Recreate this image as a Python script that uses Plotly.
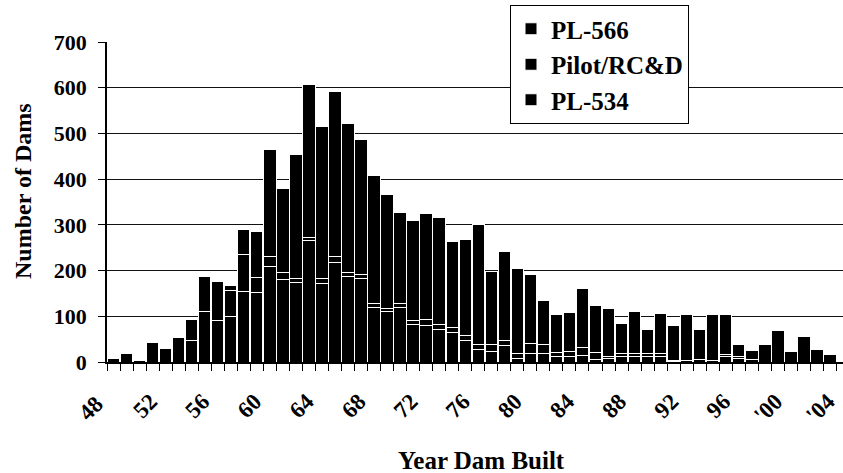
import plotly.graph_objects as go

# Years (two-digit, 105 = 2005)
years = list(range(49, 106))

# PL-534 (bottom segment)
pl534 = [7, 18, 4, 43, 30, 53, 47, 110, 90, 100,
         155, 151, 208, 181, 174, 265, 172, 218, 186, 183,
         119, 110, 119, 83, 80, 71, 64, 47, 28, 23,
         36, 7, 18, 18, 11, 12, 15, 5, 7, 13,
         12, 12, 12, 2, 3, 5, 3, 12, 7, 5,
         0, 0, 0, 0, 0, 0, 0]
# Pilot/RC&D (middle segment)
pilot = [0, 0, 0, 0, 0, 0, 0, 0, 0, 56,
         81, 33, 22, 14, 9, 7, 11, 12, 9, 8,
         10, 8, 10, 7, 14, 12, 11, 11, 10, 15,
         11, 11, 22, 20, 10, 12, 16, 16, 5, 5,
         6, 6, 6, 1, 0, 0, 0, 5, 4, 0,
         0, 0, 0, 0, 0, 0, 0]
# PL-566 (top segment)
pl566 = [0, 0, 0, 0, 0, 0, 46, 76, 87, 11,
         54, 102, 234, 185, 271, 336, 333, 361, 327, 296,
         278, 249, 199, 219, 231, 233, 189, 209, 262, 161,
         194, 187, 152, 96, 83, 84, 129, 102, 105, 66,
         93, 54, 89, 77, 101, 66, 101, 87, 28, 21,
         39, 68, 22, 55, 28, 16, 2]

tick_vals = [52, 56, 60, 64, 68, 72, 76, 80, 84, 88, 92, 96, 100, 104]
tick_text = ["52", "56", "60", "64", "68", "72", "76", "80", "84", "88",
             "92", "96", "'00", "'04"]
first_label_val = 48
first_label_text = "48"

y_ticks = [0, 100, 200, 300, 400, 500, 600, 700]

x_title = "Year Dam Built"
y_title = "Number of Dams"

X_RANGE = [48.5, 105.0]
FONT = "Liberation Serif, Times New Roman, serif"

fig = go.Figure()
series = [("PL-534", pl534, 3), ("Pilot/RC&D", pilot, 2), ("PL-566", pl566, 1)]
for name, vals, rank in series:
    fig.add_trace(go.Bar(
        x=years, y=vals, name=name, legendrank=rank, legendgroup=name,
        marker=dict(color="black", line=dict(color="white", width=1)),
    ))

fig.update_layout(
    width=843, height=473,
    margin=dict(l=107, r=0, t=42, b=111),
    barmode="stack", bargap=0.05,
    plot_bgcolor="white", paper_bgcolor="white",
    font=dict(family=FONT, color="black", size=20, weight="bold"),
    showlegend=True,
    legend=dict(
        x=(510 - 107) / 736, y=(362 - 5) / 320, xanchor="left", yanchor="top",
        bordercolor="black", borderwidth=1, bgcolor="white",
        font=dict(family=FONT, size=25, weight="bold"),
        traceorder="grouped", tracegroupgap=0, itemwidth=30,
    ),
)

fig.update_xaxes(
    range=X_RANGE,
    tickmode="array", tickvals=tick_vals, ticktext=tick_text,
    tickangle=-45, ticks="", ticklabelstandoff=15, ticklabelshift=-2,
    tickfont=dict(family=FONT, size=23, weight="bold"),
    showline=True, linecolor="black", linewidth=2,
    showgrid=False, zeroline=False, automargin=False,
    minor=dict(tickmode="linear", tick0=48.5, dtick=1, ticks="outside",
               ticklen=7, tickcolor="black", tickwidth=1, showgrid=False),
)
fig.update_yaxes(
    range=[0, 700], tickmode="array", tickvals=y_ticks,
    ticks="outside", ticklen=7, tickcolor="black", ticklabelstandoff=7,
    tickfont=dict(family=FONT, size=22, weight="bold"),
    showline=True, linecolor="black", linewidth=1.5,
    showgrid=True, gridcolor="#111111", gridwidth=1.3, zeroline=False,
    automargin=False,
)

# first tick label (lies just left of the plotted year range)
fig.add_annotation(
    x=(first_label_val - X_RANGE[0]) / (X_RANGE[1] - X_RANGE[0]), y=0,
    xref="paper", yref="paper", text=first_label_text,
    xanchor="center", yanchor="middle",
    showarrow=False, textangle=-45, xshift=-10, yshift=-46,
    font=dict(family=FONT, size=23, weight="bold"),
)
# axis titles
fig.add_annotation(
    x=(481 - 107) / 736, y=(362 - 460) / 320, xref="paper", yref="paper",
    text=x_title, showarrow=False, xanchor="center", yanchor="middle",
    font=dict(family=FONT, size=25, weight="bold"),
)
fig.add_annotation(
    x=(23 - 107) / 736, y=(362 - 191) / 320, xref="paper", yref="paper",
    text=y_title, showarrow=False, xanchor="center", yanchor="middle",
    textangle=-90,
    font=dict(family=FONT, size=24, weight="bold"),
)

fig.write_html("out.html", config={"displayModeBar": False},
               post_script="document.body.style.margin='0';")
